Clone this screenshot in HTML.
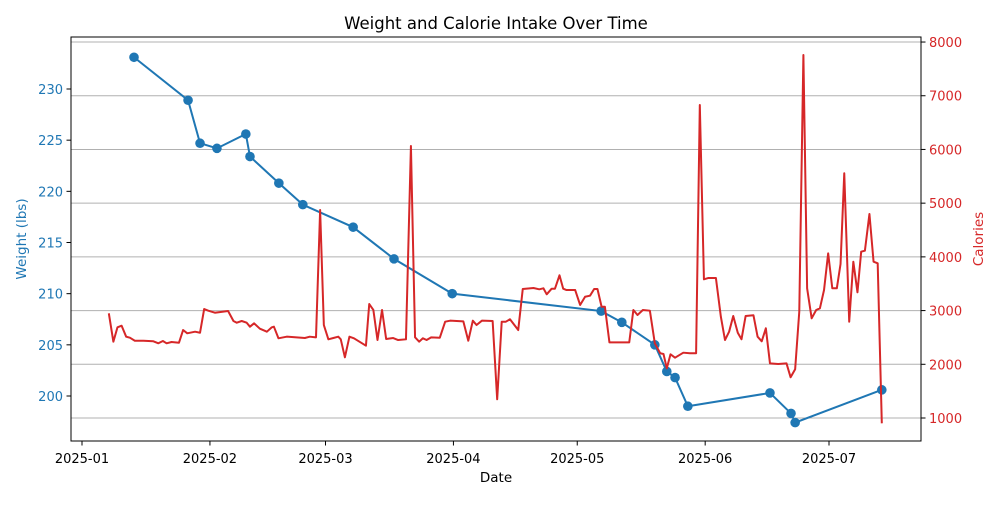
<!DOCTYPE html>
<html><head><meta charset="utf-8"><style>
body{margin:0;background:#fff;font-family:"Liberation Sans","DejaVu Sans",sans-serif}
svg text{font-family:"DejaVu Sans","Liberation Sans",sans-serif}
</style></head><body>
<svg id="chart" width="1000" height="500" viewBox="0 0 1000 500" xmlns="http://www.w3.org/2000/svg">
<rect width="1000" height="500" fill="#fff"/>
<g id="grid"></g>
<g id="wline"></g>
<g id="cline"></g>
<rect x="71" y="37" width="850" height="404" fill="none" stroke="#000" stroke-width="1"/>
<g id="axes"></g>
<text x="496" y="29" text-anchor="middle" font-size="16.5">Weight and Calorie Intake Over Time</text>
<text x="496" y="482" text-anchor="middle" font-size="13.5">Date</text>
<text x="0" y="0" transform="translate(26,239) rotate(-90)" text-anchor="middle" font-size="13.5" fill="#1f77b4">Weight (lbs)</text>
<text x="0" y="0" transform="translate(983,239) rotate(-90)" text-anchor="middle" font-size="13.5" fill="#d62728">Calories</text>
</svg>
<script>
// weight data: day offset from 2025-01-01, lbs
const weightDays=[12.6,25.7,28.6,32.7,39.7,40.7,47.7,53.5,65.7,75.6,89.7,125.8,130.8,138.8,141.7,143.7,146.8,166.7,171.8,172.8,193.8];
const weightVals=[233.1,228.9,224.7,224.2,225.6,223.4,220.8,218.7,216.5,213.4,210.0,208.3,207.2,205.0,202.4,201.8,199.0,200.3,198.3,197.4,200.6];
// calorie data
const calDays=[6.5,7.6,8.6,9.6,10.7,11.6,12.8,14.9,17.3,18.5,19.6,20.5,21.7,23.5,24.5,25.5,27.4,28.6,29.6,30.6,32.2,35.4,36.7,37.5,38.7,39.9,40.7,41.7,43.1,44.8,46.0,46.5,47.6,49.6,54.0,55.2,56.7,57.7,58.6,59.7,60.9,62.1,62.7,63.7,64.8,65.9,68.8,69.6,70.6,71.6,72.7,73.7,75.4,76.6,78.5,79.7,80.7,81.7,82.6,83.5,84.6,86.7,88.0,89.2,92.4,93.6,94.7,95.6,96.9,99.5,100.6,101.7,102.7,103.7,105.7,106.8,109.4,110.8,111.8,112.6,113.8,114.6,115.7,116.6,117.4,119.5,120.7,121.9,123.1,124.1,124.9,125.9,126.7,127.8,132.6,133.6,134.6,135.9,137.6,138.8,140.1,140.9,141.7,142.6,143.7,145.7,147.3,148.8,149.7,150.7,151.8,153.6,154.8,155.8,156.8,157.8,158.9,159.8,160.8,162.7,163.7,164.7,165.7,166.7,168.7,170.7,171.7,172.8,173.8,174.8,175.7,176.8,177.9,178.8,179.8,180.8,181.8,182.9,183.8,184.7,185.9,186.9,187.9,188.8,189.7,190.8,191.8,192.8,193.8];
const calVals=[2949,2421,2689,2718,2514,2495,2439,2439,2428,2391,2434,2391,2415,2402,2638,2577,2607,2588,3029,2998,2960,2992,2806,2774,2806,2774,2700,2763,2663,2607,2689,2700,2484,2514,2489,2514,2502,4873,2731,2465,2489,2514,2465,2130,2514,2484,2346,3122,3011,2452,3011,2471,2489,2452,2465,6064,2502,2421,2484,2452,2502,2495,2793,2812,2800,2439,2812,2731,2812,2806,1348,2793,2793,2838,2638,3402,3420,3396,3415,3303,3407,3407,3657,3407,3383,3383,3104,3258,3277,3402,3402,3072,3072,2409,2409,3011,2918,3011,2998,2391,2205,2192,1925,2186,2123,2216,2205,2205,6827,3582,3607,3607,2886,2452,2607,2899,2588,2465,2899,2912,2514,2428,2670,2018,2005,2018,1758,1907,2979,7758,3415,2856,3011,3042,3383,4066,3415,3415,3867,5556,2793,3910,3340,4096,4115,4798,3910,3880,901];
const monthDays=[0,31,59,90,120,151,181];
const monthLabels=["2025-01","2025-02","2025-03","2025-04","2025-05","2025-06","2025-07"];
const weightTicks=[200,205,210,215,220,225,230];
const calTicks=[1000,2000,3000,4000,5000,6000,7000,8000];

const NS="http://www.w3.org/2000/svg";
const X=d=>82+d*4.127;
const YW=w=>396-(w-200)*10.2333;
const YC=c=>418-(c-1000)*0.05371;
function mk(tag,attrs,parent){const e=document.createElementNS(NS,tag);for(const k in attrs)e.setAttribute(k,attrs[k]);parent.appendChild(e);return e;}
const grid=document.getElementById('grid'),axes=document.getElementById('axes');
calTicks.forEach(c=>{
  const y=YC(c);
  const g=mk('line',{x1:71,x2:921,y1:y,y2:y,stroke:'#b0b0b0','stroke-width':1},grid);
  
  
  const t=mk('line',{x1:921,x2:925.5,y1:y,y2:y,stroke:'#000'},axes);
  
  
  const l=mk('text',{x:929,y:y+5,'font-size':13,fill:'#d62728'},axes);
  l.textContent=c;
  
  
});
weightTicks.forEach(w=>{
  const y=YW(w);
  const t=mk('line',{x1:66.5,x2:71,y1:y,y2:y,stroke:'#000'},axes);
  
  
  const l=mk('text',{x:63,y:y+5,'font-size':13,fill:'#1f77b4','text-anchor':'end'},axes);
  l.textContent=w;
  
  
});
monthDays.forEach((d,i)=>{
  const x=X(d);
  const t=mk('line',{x1:x,x2:x,y1:441,y2:445.5,stroke:'#000'},axes);
  
  
  const l=mk('text',{x:x,y:463,'font-size':13,'text-anchor':'middle'},axes);
  l.textContent=monthLabels[i];
  
  
});
const wl=document.getElementById('wline');
const wp=mk('polyline',{points:weightDays.map((d,i)=>X(d)+','+YW(weightVals[i])).join(' '),fill:'none',stroke:'#1f77b4','stroke-width':2},wl);


weightDays.forEach((d,i)=>{
  const c=mk('circle',{cx:X(d),cy:YW(weightVals[i]),r:4.8,fill:'#1f77b4'},wl);
  
  
});
const cl=document.getElementById('cline');
const cp=mk('polyline',{points:calDays.map((d,i)=>X(d)+','+YC(calVals[i])).join(' '),fill:'none',stroke:'#d62728','stroke-width':2,'stroke-linejoin':'round'},cl);


</script>
</body></html>
